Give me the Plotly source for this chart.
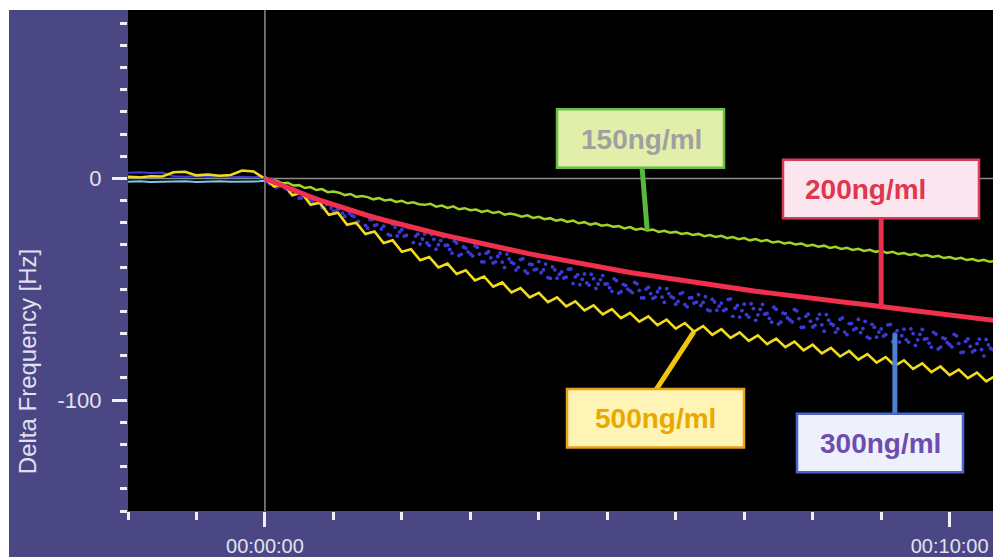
import plotly.graph_objects as go

# ---------------- data ----------------
X_RANGE = [-120, 638]          # seconds
Y_RANGE = [-150, 76]           # Hz

X_TICK_VALS = [0, 600]
X_TICK_TEXT = ["00:00:00", "00:10:00"]
Y_TICK_VALS = [0, -100]
Y_TICK_TEXT = ["0", "-100"]

BASE_T = [-120, -110, -100, -90, -80, -70, -60, -50, -40, -30, -20, -10, -5, 0]
BASE_YELLOW = [0.8, 0.5, 1.0, 0.9, 2.8, 3.0, 1.4, 1.8, 1.2, 1.6, 3.6, 3.2, 1.5, 0.0]
BASE_BLUE = [2.6, 2.8, 2.5, 2.7, 1.0, 0.8, 1.1, 0.7, 0.9, 0.6, 0.8, 0.5, 0.7, 0.0]
BASE_CYAN = [-1.5, -1.3, -1.6, -1.4, -1.5, -1.2, -1.6, -1.4, -1.3, -1.5, -1.4, -1.6, -1.3, -1.0]

GREEN_T = list(range(0, 641, 5))
GREEN_V = [
    0.5, -0.8, -1.0, -2.1, -1.9, -3.2, -3.0, -4.3, -3.9, -5.2, -4.8, -6.2, -5.9, -6.4, -7.5, -7.0,
    -8.3, -7.9, -8.4, -9.4, -8.8, -9.9, -9.5, -10.6, -10.1, -11.2, -10.7, -11.6, -11.9, -11.4, -12.7, -12.2,
    -13.3, -12.6, -13.9, -13.4, -14.3, -14.0, -15.1, -14.5, -15.6, -15.0, -16.3, -15.8, -16.4, -17.2, -16.6, -17.8,
    -17.3, -18.4, -17.9, -19.0, -18.5, -19.6, -19.0, -20.2, -19.7, -20.8, -20.2, -21.3, -20.9, -21.8, -21.5, -22.5,
    -21.9, -23.1, -22.6, -23.5, -23.0, -24.1, -23.6, -24.5, -24.1, -25.0, -24.6, -25.5, -25.0, -26.0, -25.5, -26.4,
    -25.9, -26.9, -26.4, -27.4, -26.9, -27.9, -27.3, -28.3, -27.8, -28.9, -28.4, -29.3, -28.9, -29.8, -29.3, -30.4,
    -29.9, -30.8, -30.3, -31.3, -30.8, -31.8, -31.3, -32.2, -31.7, -32.7, -32.2, -33.1, -32.6, -33.6, -33.1, -34.1,
    -33.6, -34.5, -34.0, -35.0, -34.5, -35.4, -34.9, -35.9, -35.4, -36.3, -35.8, -36.8, -36.3, -37.2, -36.7, -37.6,
    -37.1,
]

RED_T = list(range(0, 641, 10))
RED_V = [
    0.0, -2.2, -4.3, -6.35, -8.3, -10.15, -11.9, -13.6, -15.2, -16.7, -18.15, -19.55, -20.9, -22.2, -23.5, -24.7,
    -25.9, -27.1, -28.3, -29.4, -30.5, -31.6, -32.7, -33.8, -34.8, -35.8, -36.8, -37.8, -38.7, -39.6, -40.5, -41.4,
    -42.4, -43.2, -44.0, -44.9, -45.7, -46.5, -47.2, -48.0, -48.7, -49.4, -50.2, -50.9, -51.5, -52.2, -52.8, -53.4,
    -54.0, -54.7, -55.3, -55.9, -56.5, -57.2, -57.8, -58.4, -59.1, -59.7, -60.3, -61.0, -61.6, -62.2, -62.8, -63.5,
    -64.1,
]

BLUE_T = list(range(0, 641, 4))
BLUE_V = [
    0.0, -2.3, -1.6, -3.5, -2.4, -4.9, -7.3, -5.6, -8.8, -8.0, -9.9, -8.6, -11.1, -13.4, -11.6, -14.7,
    -13.8, -15.6, -14.2, -16.6, -20.4, -15.9, -21.2, -18.5, -21.2, -17.7, -21.5, -25.2, -20.6, -25.9, -23.1, -25.7,
    -22.1, -26.0, -29.6, -25.0, -30.2, -27.4, -29.9, -26.3, -30.1, -33.7, -29.1, -34.2, -31.4, -34.0, -30.3, -34.1,
    -37.6, -33.0, -38.1, -35.2, -37.7, -34.1, -37.8, -41.3, -36.6, -41.7, -38.7, -41.2, -37.5, -41.2, -44.7, -39.9,
    -45.0, -42.1, -44.5, -40.8, -44.4, -47.9, -43.1, -48.1, -45.2, -47.6, -43.8, -47.5, -50.9, -46.1, -51.1, -48.2,
    -50.7, -46.9, -50.5, -53.9, -49.1, -54.1, -51.1, -53.5, -49.7, -53.3, -56.7, -51.9, -56.9, -53.9, -56.2, -52.4,
    -55.9, -59.3, -54.5, -59.4, -56.2, -59.0, -54.3, -58.5, -62.5, -56.7, -62.5, -58.7, -61.5, -56.8, -60.9, -64.8,
    -59.0, -64.8, -61.0, -63.8, -59.1, -63.2, -67.1, -61.2, -67.0, -63.3, -66.0, -61.4, -65.5, -69.4, -63.5, -69.3,
    -65.5, -68.2, -63.5, -67.7, -71.6, -65.8, -71.6, -67.8, -70.5, -65.8, -69.9, -73.8, -68.0, -73.8, -70.0, -72.8,
    -68.1, -72.2, -76.1, -70.2, -76.1, -72.3, -75.0, -70.3, -74.4, -78.3, -72.4, -78.2, -74.5, -77.2, -72.6, -76.7,
    -80.6,
]

BLUE2_T = list(range(2, 640, 4))
BLUE2_V = [
    -1.4, -0.2, -4.1, -2.9, -4.6, -6.2, -4.9, -8.8, -7.5, -9.2, -10.6, -9.3, -13.1, -11.7, -13.3, -14.7,
    -13.3, -17.0, -15.6, -17.1, -19.4, -15.7, -22.4, -18.6, -20.9, -22.8, -19.0, -25.7, -21.9, -24.2, -26.0, -22.2,
    -28.9, -25.1, -27.3, -29.1, -25.3, -31.9, -28.0, -30.2, -32.0, -28.2, -34.8, -30.9, -33.1, -34.9, -31.0, -37.6,
    -33.7, -35.8, -37.6, -33.7, -40.2, -36.3, -38.4, -40.1, -36.2, -42.7, -38.8, -40.9, -42.5, -38.6, -45.1, -41.2,
    -43.2, -44.9, -40.9, -47.4, -43.4, -45.5, -47.1, -43.2, -49.6, -45.6, -47.6, -49.3, -45.3, -51.7, -47.8, -49.9,
    -51.5, -47.5, -53.9, -49.9, -51.9, -53.5, -49.5, -55.9, -51.9, -53.9, -55.5, -51.5, -57.9, -53.8, -55.8, -57.3,
    -53.3, -59.7, -55.7, -57.6, -59.6, -54.6, -62.2, -57.3, -59.6, -61.4, -56.5, -64.0, -59.0, -61.2, -63.1, -58.1,
    -65.7, -60.7, -62.9, -64.7, -59.7, -67.2, -62.2, -64.4, -66.3, -61.3, -68.9, -63.9, -66.1, -67.9, -62.9, -70.4,
    -65.4, -67.6, -69.5, -64.5, -72.1, -67.1, -69.3, -71.1, -66.1, -73.6, -68.7, -70.9, -72.8, -67.8, -75.3, -70.3,
    -72.5, -74.3, -69.4, -76.9, -71.9, -74.1, -76.0, -71.0, -78.5, -73.5, -75.7, -77.5, -72.5, -80.1, -75.1, -77.3,
]

YELLOW_T = list(range(0, 641, 8))
YELLOW_V = [
    0.0, -3.6, -2.4, -7.6, -6.4, -11.9, -10.9, -16.4, -15.4, -20.9, -19.9, -25.1, -23.9, -29.1, -27.9, -33.1,
    -31.9, -36.9, -35.4, -40.1, -38.4, -43.1, -41.4, -46.0, -44.2, -48.8, -46.9, -51.4, -49.4, -53.7, -51.6, -55.8,
    -53.6, -57.7, -55.4, -59.5, -57.2, -61.3, -58.9, -63.0, -60.6, -64.6, -62.2, -66.2, -63.7, -67.7, -65.2, -69.1,
    -66.6, -70.5, -68.0, -71.9, -69.4, -73.3, -70.8, -74.7, -72.2, -76.1, -73.6, -77.5, -75.0, -78.9, -76.4, -80.3,
    -77.8, -81.7, -79.2, -83.1, -80.6, -84.5, -82.0, -85.9, -83.4, -87.3, -84.8, -88.7, -86.2, -90.1, -87.6, -91.5,
    -89.0,
]

LABELS = ["150ng/ml", "200ng/ml", "500ng/ml", "300ng/ml"]

# ---------------- styling / geometry ----------------
W, H = 993, 557
L, T, PW, PH = 128, 10, 865, 505   # plot area in pixels
PURPLE = "#4a4784"
TXT = "#e2e0f0"
FONT = "Liberation Sans, Arial, sans-serif"


def px2t(x):
    return X_RANGE[0] + (x - L) / PW * (X_RANGE[1] - X_RANGE[0])


def py2v(y):
    return Y_RANGE[1] - (y - T) / PH * (Y_RANGE[1] - Y_RANGE[0])


def pxp(x):
    return (x - L) / PW


def pyp(y):
    return (T + PH - y) / PH


fig = go.Figure()

# pre-injection baselines
fig.add_trace(go.Scatter(x=BASE_T, y=BASE_CYAN, mode="lines", line=dict(color="#78c8ee", width=2), showlegend=False))
fig.add_trace(go.Scatter(x=BASE_T, y=BASE_BLUE, mode="lines", line=dict(color="#3c3cdc", width=2), showlegend=False))
fig.add_trace(go.Scatter(x=BASE_T, y=BASE_YELLOW, mode="lines", line=dict(color="#f0dc1c", width=2.5), showlegend=False))

# 300 ng/ml (dots)
fig.add_trace(go.Scatter(x=BLUE_T, y=BLUE_V, mode="markers",
                         marker=dict(color="#3a3ad8", size=3.8, line=dict(width=0)), showlegend=False))
fig.add_trace(go.Scatter(x=BLUE2_T, y=BLUE2_V, mode="markers",
                         marker=dict(color="#3a3ad8", size=3.8, line=dict(width=0)), showlegend=False))
# 150 ng/ml
fig.add_trace(go.Scatter(x=GREEN_T, y=GREEN_V, mode="lines", line=dict(color="#a2d22a", width=2.5), showlegend=False))
# 500 ng/ml
fig.add_trace(go.Scatter(x=YELLOW_T, y=YELLOW_V, mode="lines", line=dict(color="#f0dc1c", width=2.6), showlegend=False))
# 200 ng/ml
fig.add_trace(go.Scatter(x=RED_T, y=RED_V, mode="lines", line=dict(color="#f0304c", width=5), showlegend=False))

shapes = []
# white border of the scanned figure (top and left)
shapes.append(dict(type="rect", xref="paper", yref="paper", x0=pxp(-5), x1=pxp(W + 5), y0=pyp(T), y1=pyp(-5),
                   fillcolor="white", line=dict(width=0), layer="below"))
shapes.append(dict(type="rect", xref="paper", yref="paper", x0=pxp(-5), x1=pxp(9), y0=pyp(H + 5), y1=pyp(-5),
                   fillcolor="white", line=dict(width=0), layer="below"))
# zero cross-hair
shapes.append(dict(type="line", xref="x", yref="y", x0=0, x1=0, y0=Y_RANGE[0], y1=Y_RANGE[1],
                   line=dict(color="#8c8c8c", width=1.5), layer="below"))
shapes.append(dict(type="line", xref="x", yref="y", x0=X_RANGE[0], x1=X_RANGE[1], y0=0, y1=0,
                   line=dict(color="#8c8c8c", width=1.5), layer="below"))

# leader lines (end on the curves)
g_t, r_t, y_t, b_t = 335, 540, 376, 552
g_v = GREEN_V[GREEN_T.index(g_t)]
r_v = RED_V[RED_T.index(r_t)]
y_v = YELLOW_V[YELLOW_T.index(y_t)]
b_v = BLUE_V[BLUE_T.index(b_t)]
shapes.append(dict(type="line", xref="x", yref="y", x0=px2t(642), y0=py2v(168), x1=g_t, y1=g_v,
                   line=dict(color="#58b83c", width=5)))
shapes.append(dict(type="line", xref="x", yref="y", x0=r_t, y0=py2v(219), x1=r_t, y1=r_v,
                   line=dict(color="#e8304c", width=5)))
shapes.append(dict(type="line", xref="x", yref="y", x0=px2t(656), y0=py2v(393), x1=y_t, y1=y_v,
                   line=dict(color="#f2c410", width=5)))
shapes.append(dict(type="line", xref="x", yref="y", x0=b_t, y0=py2v(418), x1=b_t, y1=b_v,
                   line=dict(color="#5080d0", width=5)))

boxes = [
    # (x0, y0, x1, y1) px, fill, border, text colour, text centre px
    ((557, 110, 724, 169), "#e2efab", "#66be44", "#a0a0a0", (641, 141)),
    ((783, 161, 979, 220), "#fbe6ef", "#d63c58", "#e0364e", (865, 191)),
    ((567, 392, 744, 451), "#fdf4b5", "#e8a317", "#eaa800", (655, 422)),
    ((797, 417, 963, 476), "#eef0fb", "#4a64c8", "#6e4db0", (880, 447)),
]
annotations = []
for lab, (bx, fill, border, tcol, tc) in zip(LABELS, boxes):
    shapes.append(dict(type="rect", xref="paper", yref="paper",
                       x0=pxp(bx[0]), x1=pxp(bx[2]), y0=pyp(bx[3]), y1=pyp(bx[1]),
                       fillcolor=fill, line=dict(color=border, width=2.5)))
    annotations.append(dict(text="<b>" + lab + "</b>", xref="paper", yref="paper", x=pxp(tc[0]), y=pyp(tc[1]),
                            xanchor="center", yanchor="middle", showarrow=False,
                            font=dict(family=FONT, size=28, color=tcol)))

annotations.append(dict(text="Delta Frequency [Hz]", xref="paper", yref="paper",
                        x=pxp(27), y=pyp(365), xanchor="center", yanchor="middle",
                        textangle=-90, showarrow=False,
                        font=dict(family=FONT, size=24, color=TXT)))

fig.update_layout(
    width=W, height=H,
    margin=dict(l=L, r=W - L - PW, t=T, b=H - T - PH, pad=0),
    paper_bgcolor=PURPLE, plot_bgcolor="black",
    showlegend=False,
    shapes=shapes, annotations=annotations,
    xaxis=dict(range=X_RANGE, showgrid=False, zeroline=False, showline=False,
               tickmode="array", tickvals=X_TICK_VALS, ticktext=X_TICK_TEXT,
               ticks="outside", ticklen=15, tickwidth=2.5, tickcolor="#f0f0f8",
               ticklabelstandoff=2,
               tickfont=dict(family=FONT, size=20, color=TXT),
               minor=dict(tickmode="linear", tick0=0, dtick=60, ticks="outside",
                          ticklen=8, tickwidth=2.5, tickcolor="#f0f0f8", showgrid=False)),
    yaxis=dict(range=Y_RANGE, showgrid=False, zeroline=False, showline=False,
               tickmode="array", tickvals=Y_TICK_VALS, ticktext=Y_TICK_TEXT,
               ticks="outside", ticklen=15, tickwidth=2.5, tickcolor="#f0f0f8",
               ticklabelstandoff=6,
               tickfont=dict(family=FONT, size=22, color=TXT),
               minor=dict(tickmode="linear", tick0=0, dtick=10, ticks="outside",
                          ticklen=7, tickwidth=2.5, tickcolor="#f0f0f8", showgrid=False)),
)

fig.write_html(
    "out.html",
    config={"displayModeBar": False},
    post_script="document.body.style.margin='0';document.documentElement.style.overflow='hidden';"
                "document.body.style.overflow='hidden';",
)
